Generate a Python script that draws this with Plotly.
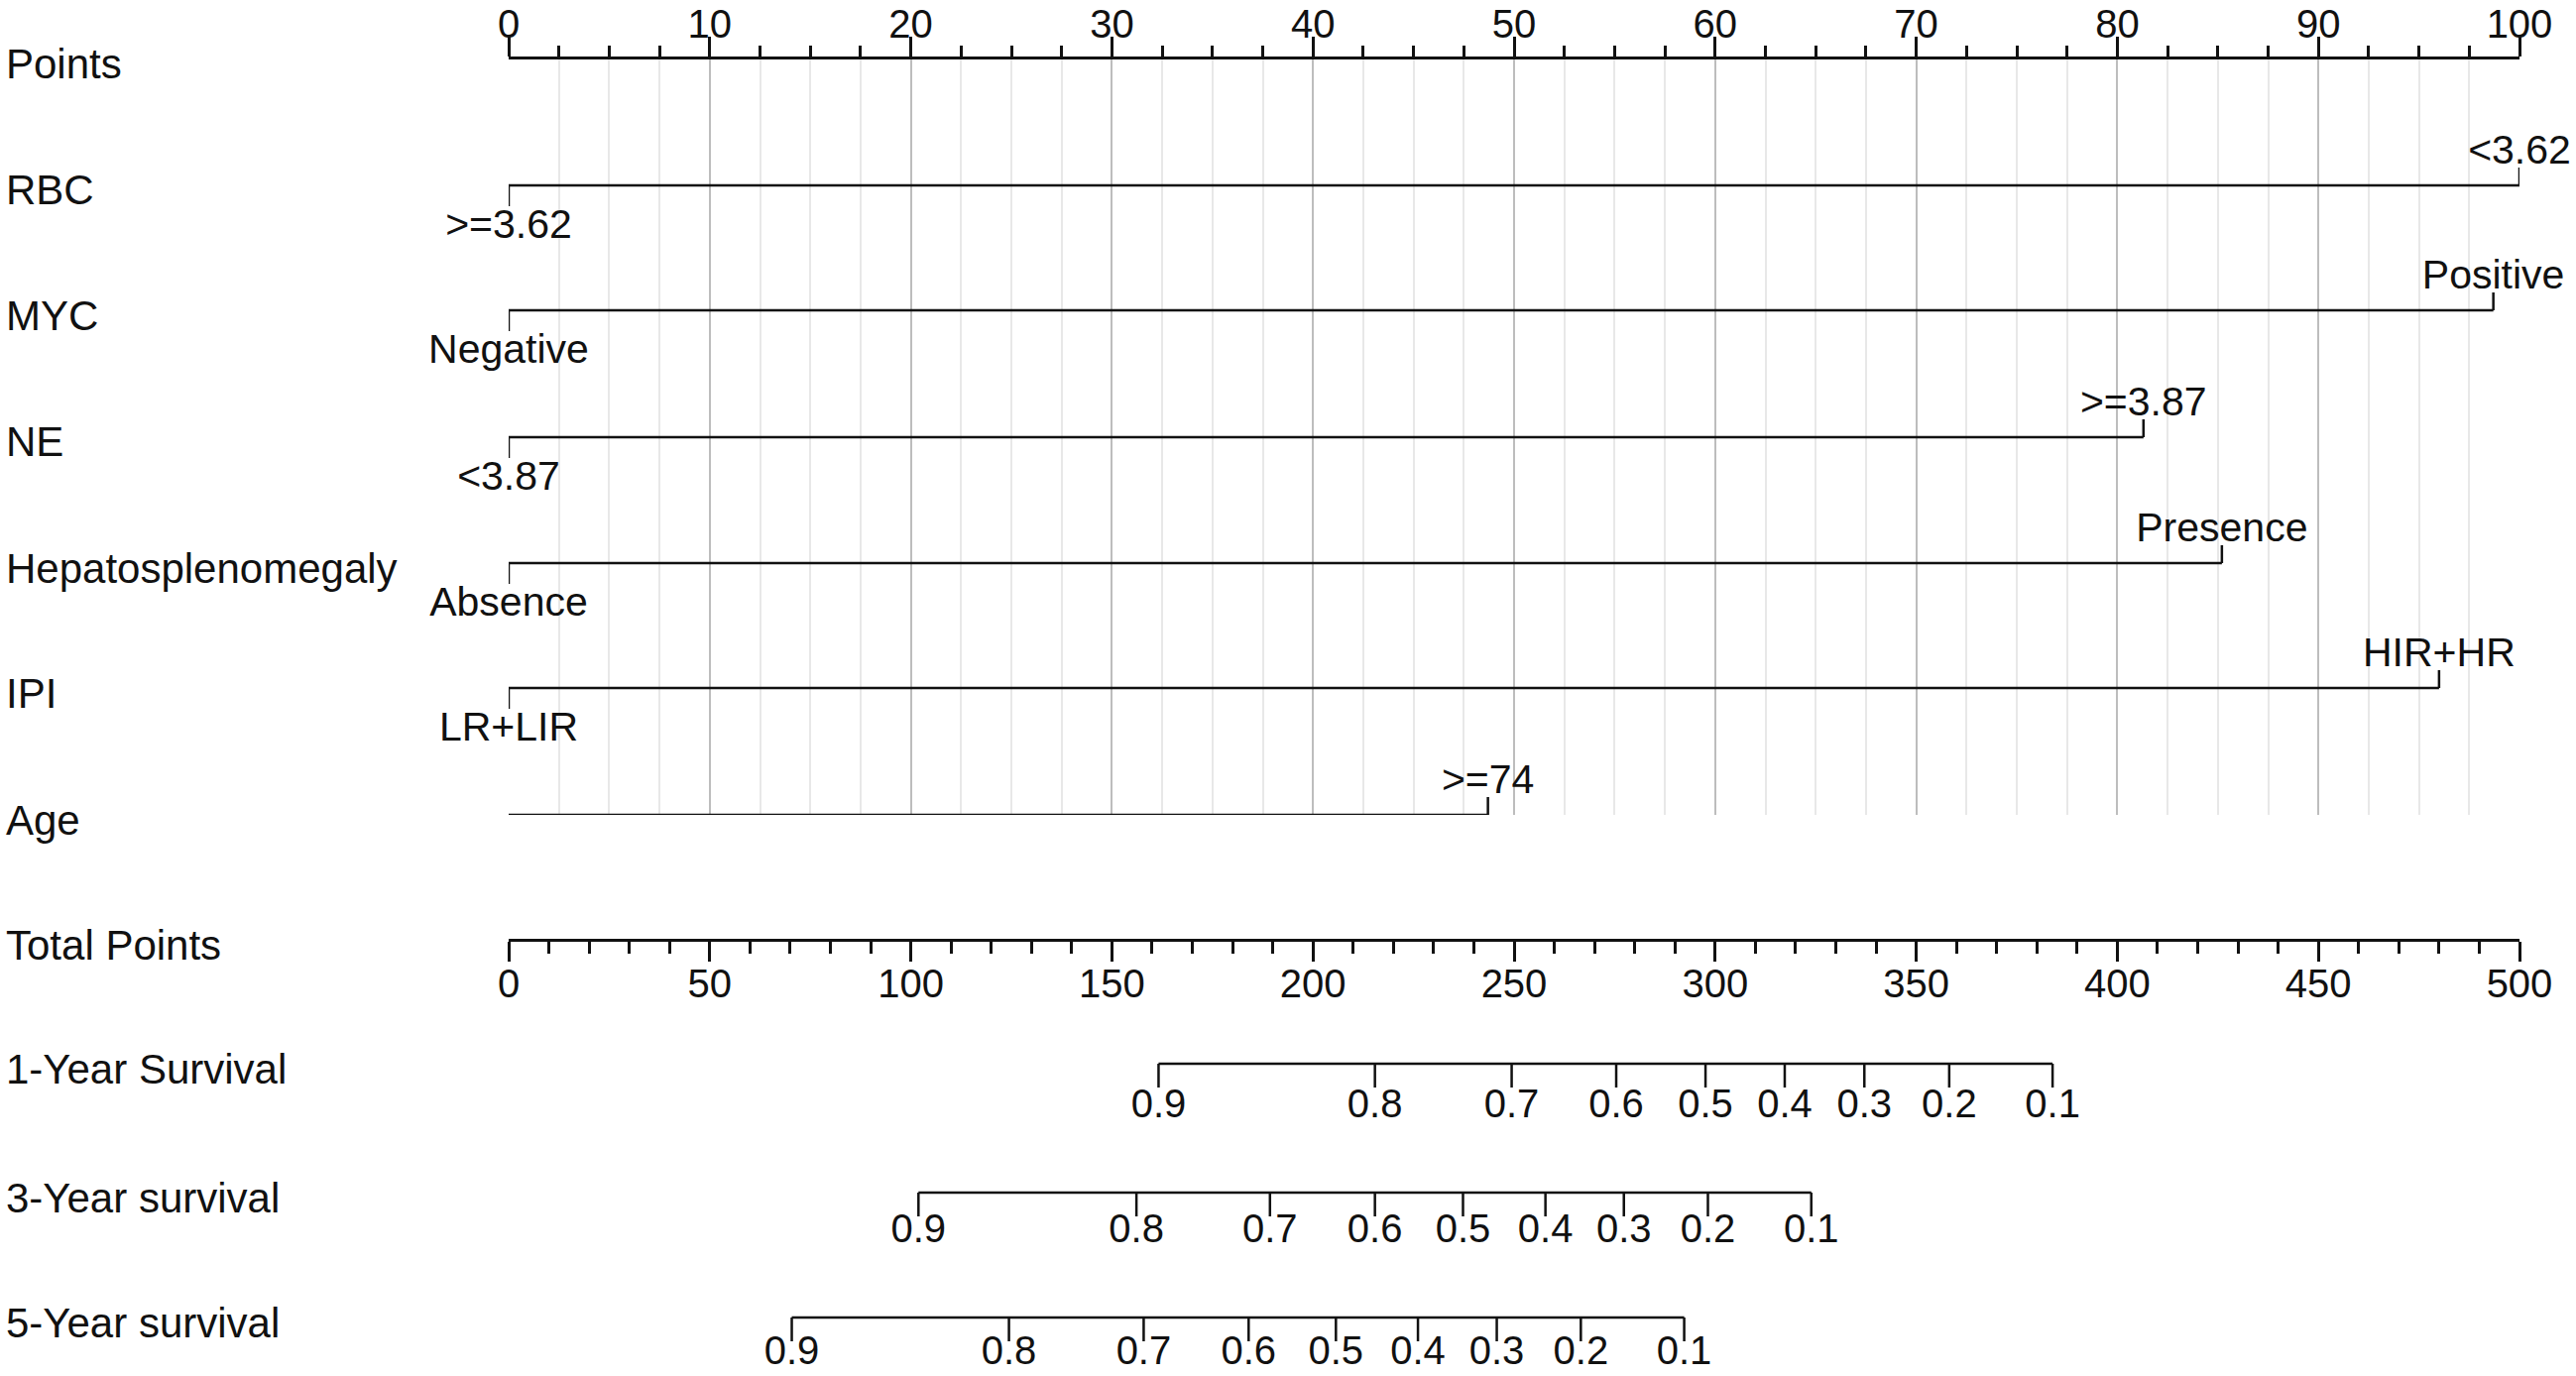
"""Nomogram: points scale, predictor rows, total points and survival scales."""

import plotly.graph_objects as go

W, H = 2598, 1388
FONT = "Liberation Sans, Arial, sans-serif"
INK = "#111111"

# predictor rows
PREDICTORS = ["RBC", "MYC", "NE", "Hepatosplenomegaly", "IPI", "Age"]
LEVEL_LABELS = [
    [">=3.62", "<3.62"],
    ["Negative", "Positive"],
    ["<3.87", ">=3.87"],
    ["Absence", "Presence"],
    ["LR+LIR", "HIR+HR"],
    ["<74", ">=74"],
]
LEVEL_POINTS = [
    [0, 100],
    [0, 98.7],
    [0, 81.3],
    [0, 85.2],
    [0, 96.0],
    [0, 48.7],
]

# survival scales (probability -> total points)
SURV_NAMES = ["1-Year Survival", "3-Year survival", "5-Year survival"]
SURV_PROBS = [0.9, 0.8, 0.7, 0.6, 0.5, 0.4, 0.3, 0.2, 0.1]
SURV_TOTAL_POINTS = [
    [161.6, 215.4, 249.4, 275.4, 297.6, 317.3, 337.1, 358.2, 383.9],
    [101.9, 156.1, 189.3, 215.4, 237.3, 257.8, 277.3, 298.2, 323.9],
    [70.4, 124.4, 157.9, 184.0, 205.7, 226.1, 245.7, 266.6, 292.3],
]

# layout (pixel rows)
X0, X1 = 513, 2541
POINTS_Y = 60
GRID_BOTTOM = 822
PRED_Y = [187, 313, 441, 568, 694, 822]
TOTAL_Y = 948
SURV_Y = [1073, 1203, 1329]
SURV_LABEL_GAP = [44, 40, 37]
BOTTOM_TOP = 880


def _paper_y(px):
    return 1 - px / H


fig = go.Figure()

# predictor rows on the points axis
for name, labels, pts, y in zip(PREDICTORS, LEVEL_LABELS, LEVEL_POINTS, PRED_Y):
    xs = [min(pts), max(pts)]
    ys = [y, y]
    for i, p in enumerate(pts):
        up = i % 2 == 1
        xs += [None, p, p]
        ys += [None, y, y - 18 if up else y + 21]
    fig.add_trace(
        go.Scatter(
            x=xs, y=ys, mode="lines", xaxis="x", yaxis="y",
            line=dict(color=INK, width=2.5), hoverinfo="skip", showlegend=False,
        )
    )
    fig.add_trace(
        go.Scatter(
            x=pts,
            y=[y + 43 if i % 2 == 0 else y - 32 for i in range(len(pts))],
            text=labels, mode="text", xaxis="x", yaxis="y",
            textposition="middle center", cliponaxis=False,
            textfont=dict(family=FONT, size=41, color=INK),
            hoverinfo="skip", showlegend=False,
        )
    )

# survival rows on the total points axis
for name, tps, y, gap in zip(SURV_NAMES, SURV_TOTAL_POINTS, SURV_Y, SURV_LABEL_GAP):
    xs = [min(tps), max(tps)]
    ys = [y, y]
    for t in tps:
        xs += [None, t, t]
        ys += [None, y, y + 24]
    fig.add_trace(
        go.Scatter(
            x=xs, y=ys, mode="lines", xaxis="x2", yaxis="y2",
            line=dict(color=INK, width=2.5), hoverinfo="skip", showlegend=False,
        )
    )
    fig.add_trace(
        go.Scatter(
            x=tps, y=[y + gap] * len(tps), text=[f"{p:.1f}" for p in SURV_PROBS],
            mode="text", xaxis="x2", yaxis="y2", textposition="middle center",
            cliponaxis=False, textfont=dict(family=FONT, size=40, color=INK),
            hoverinfo="skip", showlegend=False,
        )
    )

# row names on the left
row_names = ["Points"] + PREDICTORS + ["Total Points"] + SURV_NAMES
row_ys = [POINTS_Y] + PRED_Y + [TOTAL_Y] + SURV_Y
for name, y in zip(row_names, row_ys):
    fig.add_annotation(
        x=0, y=_paper_y(y + 5), xref="paper", yref="paper", xshift=4,
        text=name, showarrow=False, xanchor="left", yanchor="middle",
        font=dict(family=FONT, size=42, color=INK),
    )

fig.update_layout(
    width=W,
    height=H,
    margin=dict(l=0, r=0, t=0, b=0, autoexpand=False),
    paper_bgcolor="white",
    plot_bgcolor="white",
    showlegend=False,
    xaxis=dict(
        domain=[X0 / W, X1 / W], range=[0, 100], side="top", anchor="y",
        automargin=False,
        showline=True, linecolor=INK, linewidth=2.5,
        ticks="outside", ticklen=20, tickwidth=2.5, tickcolor=INK,
        tick0=0, dtick=10, tickfont=dict(family=FONT, size=40, color=INK),
        ticklabelstandoff=-17,
        showgrid=True, gridcolor="#bdbdbd", gridwidth=2, zeroline=False,
        minor=dict(
            dtick=2.5, ticks="outside", ticklen=11, tickwidth=2.5,
            tickcolor=INK, showgrid=True, gridcolor="#e8e8e8", gridwidth=1.5,
        ),
        fixedrange=True,
    ),
    yaxis=dict(
        domain=[_paper_y(GRID_BOTTOM), _paper_y(POINTS_Y)],
        range=[GRID_BOTTOM, POINTS_Y], visible=False, fixedrange=True,
        automargin=False,
    ),
    xaxis2=dict(
        domain=[X0 / W, X1 / W], range=[0, 500], side="bottom",
        anchor="free", position=_paper_y(TOTAL_Y), automargin=False,
        showline=True, linecolor=INK, linewidth=2.5,
        ticks="outside", ticklen=20, tickwidth=2.5, tickcolor=INK,
        tick0=0, dtick=50, tickfont=dict(family=FONT, size=40, color=INK),
        ticklabelstandoff=-12,
        showgrid=False, zeroline=False,
        minor=dict(dtick=10, ticks="outside", ticklen=12, tickwidth=2.5, tickcolor=INK),
        fixedrange=True,
    ),
    yaxis2=dict(
        domain=[0, _paper_y(BOTTOM_TOP)], range=[H, BOTTOM_TOP],
        anchor="x2", visible=False, fixedrange=True, automargin=False,
    ),
)

fig.write_html(
    "out.html",
    config={"displayModeBar": False},
    post_script="document.body.style.margin='0';document.body.style.overflow='hidden';",
)
